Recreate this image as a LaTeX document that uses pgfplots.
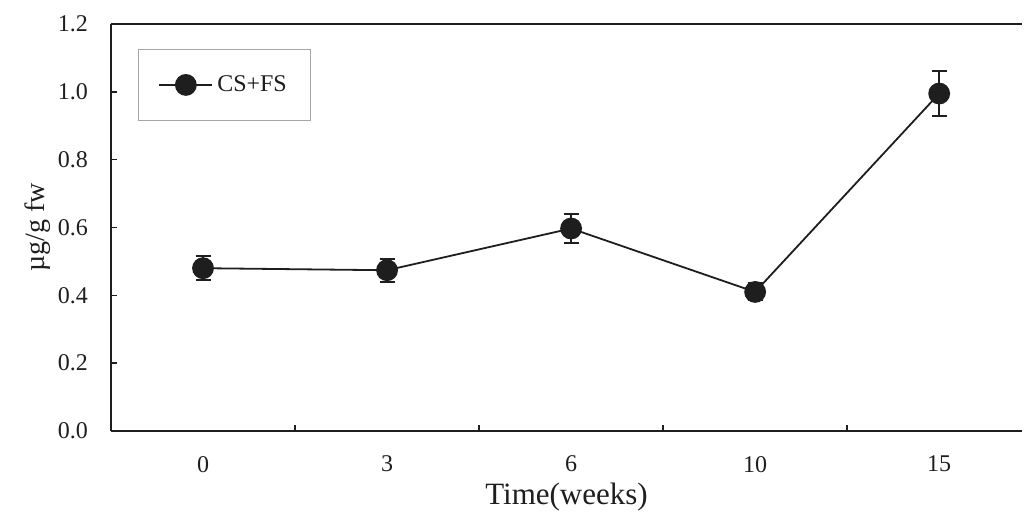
\documentclass[border=0pt]{standalone}
\usepackage{fontspec}
\setmainfont{Liberation Serif}
\usepackage{pgfplots}
\pgfplotsset{compat=1.18}
\definecolor{ink}{HTML}{1E1E1E}
\begin{document}
\begin{tikzpicture}
\begin{axis}[
  name=ax, at={(0,0)}, anchor=south west,
  scale only axis, width=455.5pt, height=203.5pt,
  xmin=-0.5, xmax=4.45, ymin=0, ymax=1.2,
  axis y line*=left,
  axis line style={line width=1.4pt, color=ink},
  xtick={0.5,1.5,2.5,3.5}, xticklabels={},
  extra x ticks={0,1,2,3,4}, extra x tick labels={0,3,6,10,15},
  extra x tick style={major tick length=0pt},
  major tick length=3pt,
  xtick pos=lower, ytick pos=left,
  ytick={0,0.2,0.4,0.6,0.8,1.0,1.2},
  yticklabels={0.0,0.2,0.4,0.6,0.8,1.0,1.2},
  tick align=inside,
  tick style={line width=0.7pt, color=ink},
  tick label style={font=\fontsize{12}{14}\selectfont, color=ink},
  yticklabel style={xshift=-8pt},
  xticklabel style={yshift=-9pt},
  xlabel={Time(weeks)}, ylabel={µg/g fw},
  label style={font=\fontsize{15.5}{18}\selectfont, color=ink},
  xlabel style={at={(axis description cs:0.5,-0.162)}, anchor=center},
  ylabel style={at={(axis description cs:-0.080,0.5)}, anchor=center, font=\fontsize{14}{16}\selectfont},
  legend style={at={(axis description cs:0.0296,0.9386)}, anchor=north west,
    draw=gray!70, line width=0.5pt, inner xsep=10pt, inner ysep=11pt,
    font=\fontsize{12}{14}\selectfont, text=ink},
  legend image code/.code={\draw[mark repeat=2,mark phase=2,#1] plot coordinates {(0pt,0pt) (13.25pt,0pt) (26.5pt,0pt)};},
]
\addplot[color=ink, line width=0.9pt, mark=*, mark size=5pt,
  mark options={fill=ink, draw=ink},
  error bars/.cd, y dir=both, y explicit,
  error bar style={line width=1pt, color=ink},
  error mark options={rotate=90, mark size=3.75pt, line width=1pt, color=ink}]
  coordinates {
  (0,0.480) +- (0,0.035)
  (1,0.474) +- (0,0.034)
  (2,0.597) +- (0,0.043)
  (3,0.410) +- (0,0.025)
  (4,0.995) +- (0,0.067)
  };
\addlegendentry{CS+FS}
\end{axis}
\pgfresetboundingbox
\path[use as bounding box] (-55.5pt,-43.5pt) rectangle (458pt,215.5pt);
\end{tikzpicture}
\end{document}
